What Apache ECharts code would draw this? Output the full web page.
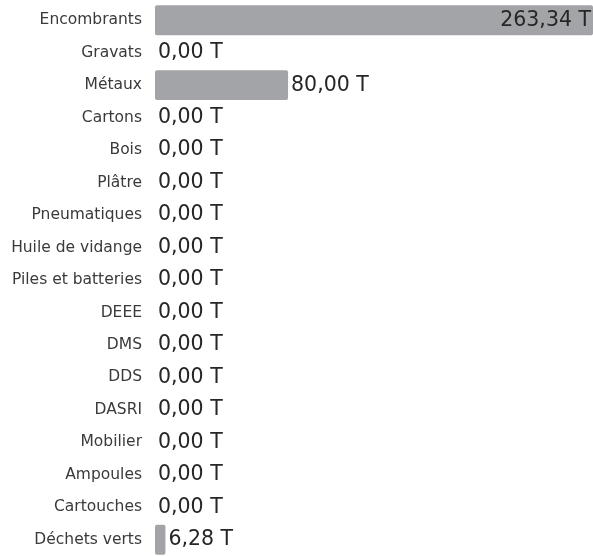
<!DOCTYPE html>
<html>
<head>
<meta charset="utf-8">
<title>Tonnages</title>
<script src="https://cdn.jsdelivr.net/npm/echarts@6/dist/echarts.min.js"></script>
<style>
  html, body { margin: 0; padding: 0; background: #fff; }
  #chart { width: 593px; height: 556px; }
</style>
</head>
<body>
<div id="chart"></div>
<script>
// catégories de déchets (de haut en bas)
var categories = ['Encombrants', 'Gravats', 'Métaux', 'Cartons', 'Bois', 'Plâtre', 'Pneumatiques',
  'Huile de vidange', 'Piles et batteries', 'DEEE', 'DMS', 'DDS', 'DASRI', 'Mobilier',
  'Ampoules', 'Cartouches', 'Déchets verts'];
// tonnages
var tonnages = [263.34, 0, 80, 0, 0, 0, 0, 0, 0, 0, 0, 0, 0, 0, 0, 0, 6.28];

var maxValue = Math.max.apply(null, tonnages);

function formatT(v) {
  return v.toFixed(2).replace('.', ',') + ' T';
}

var chart = echarts.init(document.getElementById('chart'));

var data = tonnages.map(function (v) {
  var item = { value: v };
  // le plus grand : étiquette dans la barre
  if (v === maxValue) {
    item.label = { position: 'insideRight', distance: 2 };
  }
  return item;
});

var option = {
  animation: false,
  grid: { left: 155, right: 0, top: 4, bottom: -2, containLabel: false },
  xAxis: {
    type: 'value',
    min: 0,
    max: maxValue,
    show: false
  },
  yAxis: {
    type: 'category',
    inverse: true,
    data: categories,
    axisLine: { show: false },
    axisTick: { show: false },
    axisLabel: {
      margin: 13,
      color: '#3a3a3a',
      fontFamily: 'DejaVu Sans',
      fontSize: 15.5
    }
  },
  series: [{
    type: 'bar',
    data: data,
    barCategoryGap: '8%',
    itemStyle: { color: '#a3a4a7', borderRadius: 2 },
    label: {
      show: true,
      position: 'right',
      distance: 3,
      color: '#262626',
      fontFamily: 'DejaVu Sans',
      fontSize: 20.5,
      formatter: function (p) { return formatT(p.value); }
    }
  }]
};

chart.setOption(option);
</script>
</body>
</html>
